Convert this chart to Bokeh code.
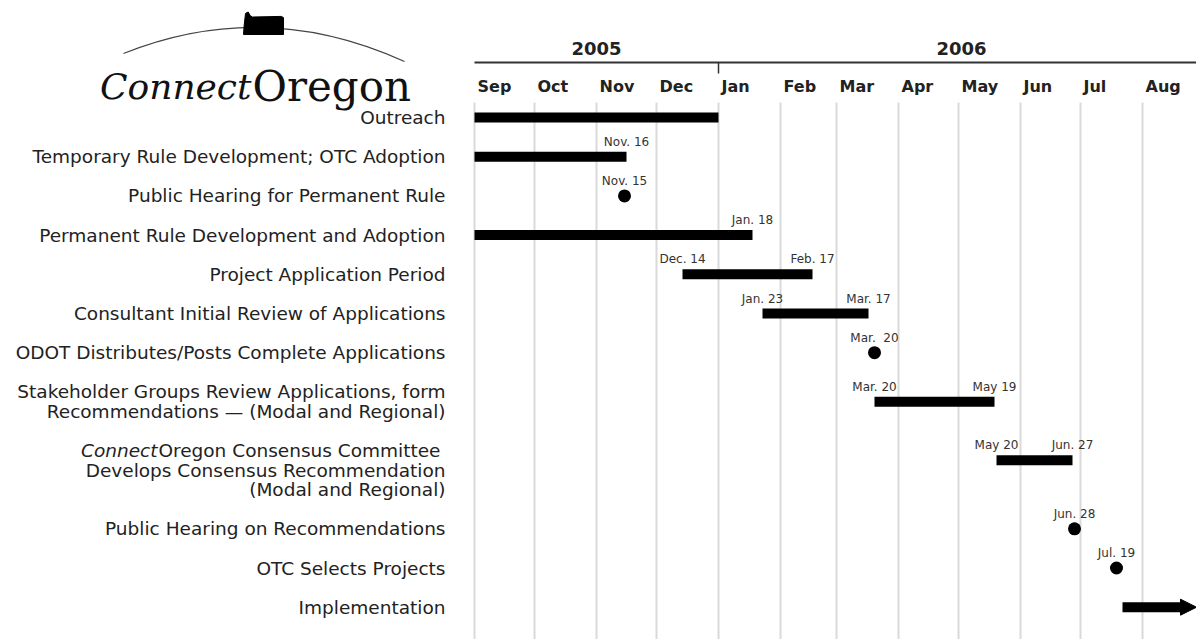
import pandas as pd
from bokeh.plotting import figure
from bokeh.models import Range1d, ColumnDataSource, Arrow, NormalHead
from bokeh.core.properties import value
from bokeh.embed import file_html
from bokeh.resources import INLINE

# ---------------- data ----------------
ORIGIN = "2005-09-01"

task_lines = [
    ["Outreach"],
    ["Temporary Rule Development; OTC Adoption"],
    ["Public Hearing for Permanent Rule"],
    ["Permanent Rule Development and Adoption"],
    ["Project Application Period"],
    ["Consultant Initial Review of Applications"],
    ["ODOT Distributes/Posts Complete Applications"],
    ["Stakeholder Groups Review Applications, form",
     "Recommendations \u2014 (Modal and Regional)"],
    ["ConnectOregon Consensus Committee",
     "Develops Consensus Recommendation",
     "(Modal and Regional)"],
    ["Public Hearing on Recommendations"],
    ["OTC Selects Projects"],
    ["Implementation"],
]

bar_rows = [0, 1, 3, 4, 5, 7, 8]
bar_start = ["2005-09-01", "2005-09-01", "2005-09-01", "2005-12-14",
             "2006-01-23", "2006-03-20", "2006-05-20"]
bar_end = ["2006-01-01", "2005-11-16", "2006-01-18", "2006-02-17",
           "2006-03-17", "2006-05-19", "2006-06-27"]
bar_start_label = ["", "", "", "Dec. 14", "Jan. 23", "Mar. 20", "May 20"]
bar_end_label = ["", "Nov. 16", "Jan. 18", "Feb. 17", "Mar. 17", "May 19", "Jun. 27"]

milestone_rows = [2, 6, 9, 10]
milestone_dates = ["2005-11-15", "2006-03-20", "2006-06-28", "2006-07-19"]
milestone_labels = ["Nov. 15", "Mar.\u00a0\u00a020", "Jun. 28", "Jul. 19"]

impl_row = 11
impl_start = "2006-07-22"

months = ["Sep", "Oct", "Nov", "Dec", "Jan", "Feb", "Mar", "Apr", "May", "Jun", "Jul", "Aug"]
month_starts = ["2005-09-01", "2005-10-01", "2005-11-01", "2005-12-01", "2006-01-01",
                "2006-02-01", "2006-03-01", "2006-04-01", "2006-05-01", "2006-06-01",
                "2006-07-01", "2006-08-01"]
years = ["2005", "2006"]
year_from = ["2005-09-01", "2006-01-01"]
year_to = ["2006-01-01", "2006-09-01"]


def day(s):
    return (pd.Timestamp(s) - pd.Timestamp(ORIGIN)).days


# ---------------- layout ----------------
W, H = 1196, 639
LEFT = 474          # pixel where the time axis starts
PX_PER_DAY = 2.0
X0 = -LEFT / PX_PER_DAY
X1 = (W - LEFT) / PX_PER_DAY
FIRST_LINE = 117
PITCH = 39.2
LINE = 19.5
LABEL_RIGHT = 445
FONT = "DejaVu Sans"
LABEL_SIZE = "18.5px"

line_y, bar_y = [], []
yy = FIRST_LINE
for lines in task_lines:
    ys = [yy + k * LINE for k in range(len(lines))]
    line_y.append(ys)
    bar_y.append(sum(ys[:2]) / len(ys[:2]))
    yy = ys[-1] + PITCH

p = figure(width=W, height=H, x_range=Range1d(X0, X1), y_range=Range1d(H, 0),
           x_axis_type=None, y_axis_type=None, toolbar_location=None,
           output_backend="svg", min_border=0, outline_line_color=None,
           background_fill_color="white", border_fill_color="white")
p.grid.visible = False
p.extra_x_ranges = {"px": Range1d(0, W)}

# month gridlines
ms = [day(m) for m in month_starts]
p.segment(x0=ms, x1=ms, y0=[102] * len(ms), y1=[H] * len(ms),
          line_color="#dadada", line_width=2)

# header: year line, tick, labels
p.segment(x0=[0], x1=[X1], y0=[62], y1=[62], line_color="#333333", line_width=2)
p.segment(x0=[day(year_to[0])], x1=[day(year_to[0])], y0=[62], y1=[73],
          line_color="#333333", line_width=1.5)
p.text(x=[(day(a) + day(b)) / 2 for a, b in zip(year_from, year_to)], y=[48] * 2,
       text=years, text_font=value(FONT), text_font_style="bold",
       text_font_size="18px", text_align="center", text_baseline="middle",
       text_color="#222222")
p.text(x=ms, y=[86] * len(ms), text=months, x_offset=3, text_font=value(FONT),
       text_font_style="bold", text_font_size="16px", text_align="left",
       text_baseline="middle", text_color="#222222")

# row labels
lx, ly, lt = [], [], []
italic_rows = []
for lines, ys in zip(task_lines, line_y):
    for t, y in zip(lines, ys):
        if t.startswith("ConnectOregon"):
            italic_rows.append((t[len("Connect"):], y))
            continue
        lx.append(LABEL_RIGHT); ly.append(y); lt.append(t)
p.text(x=lx, y=ly, text=lt, x_range_name="px", text_font=value(FONT),
       text_font_size=LABEL_SIZE, text_align="right", text_baseline="middle",
       text_color="#222222")
for rest, y in italic_rows:
    p.text(x=[LABEL_RIGHT], y=[y], text=[rest], x_offset=-5, x_range_name="px",
           text_font=value(FONT), text_font_size=LABEL_SIZE, text_align="right",
           text_baseline="middle", text_color="#222222")
    p.text(x=[LABEL_RIGHT], y=[y], text=["Connect"], x_offset=-288, x_range_name="px",
           text_font=value(FONT), text_font_size=LABEL_SIZE, text_font_style="italic",
           text_align="right", text_baseline="middle", text_color="#222222")

# bars
bsrc = ColumnDataSource(dict(
    y=[bar_y[r] for r in bar_rows],
    left=[day(s) for s in bar_start],
    right=[day(e) for e in bar_end],
    sl=bar_start_label, el=bar_end_label,
    ly=[bar_y[r] - 15 for r in bar_rows],
))
p.hbar(y="y", left="left", right="right", height=10, source=bsrc,
       fill_color="black", line_color=None)
p.text(x="left", y="ly", text="sl", source=bsrc, text_font=value(FONT),
       text_font_size="12px", text_align="center", text_baseline="middle",
       text_color="#333333")
p.text(x="right", y="ly", text="el", source=bsrc, text_font=value(FONT),
       text_font_size="12px", text_align="center", text_baseline="middle",
       text_color="#333333")

# milestones
msrc = ColumnDataSource(dict(
    x=[day(d) for d in milestone_dates],
    y=[bar_y[r] for r in milestone_rows],
    ly=[bar_y[r] - 15 for r in milestone_rows],
    t=milestone_labels,
))
p.scatter(x="x", y="y", size=13, source=msrc, fill_color="black", line_color=None)
p.text(x="x", y="ly", text="t", source=msrc, text_font=value(FONT),
       text_font_size="12px", text_align="center", text_baseline="middle",
       text_color="#333333")

# implementation arrow
p.add_layout(Arrow(x_start=day(impl_start), y_start=bar_y[impl_row],
                   x_end=X1, y_end=bar_y[impl_row], line_width=10, line_color="black",
                   end=NormalHead(size=16, fill_color="black", line_color="black")))

# logo
p.quadratic(x0=[123], y0=[53], x1=[404], y1=[61], cx=[263], cy=[-3],
            x_range_name="px", line_color="#444444", line_width=1.3)
p.patch(x=[245, 247.7, 249.6, 251.8, 280.8, 283, 283, 243, 243.6],
        y=[12.9, 11.5, 15, 16.5, 15.9, 17.1, 34, 34, 25.6],
        x_range_name="px", fill_color="black", line_color="black", line_width=1)
p.text(x=[251], y=[86], text=["Connect"], x_range_name="px",
       text_font=value("DejaVu Serif"), text_font_style="italic",
       text_font_size="36px", text_align="right", text_baseline="alphabetic",
       text_color="#111111")
p.text(x=[252], y=[86], text=["Oregon"], x_range_name="px",
       text_font=value("DejaVu Serif"), text_font_size="42px",
       text_align="left", text_baseline="alphabetic", text_color="#111111")

open("out.html", "w").write(file_html(p, INLINE))
